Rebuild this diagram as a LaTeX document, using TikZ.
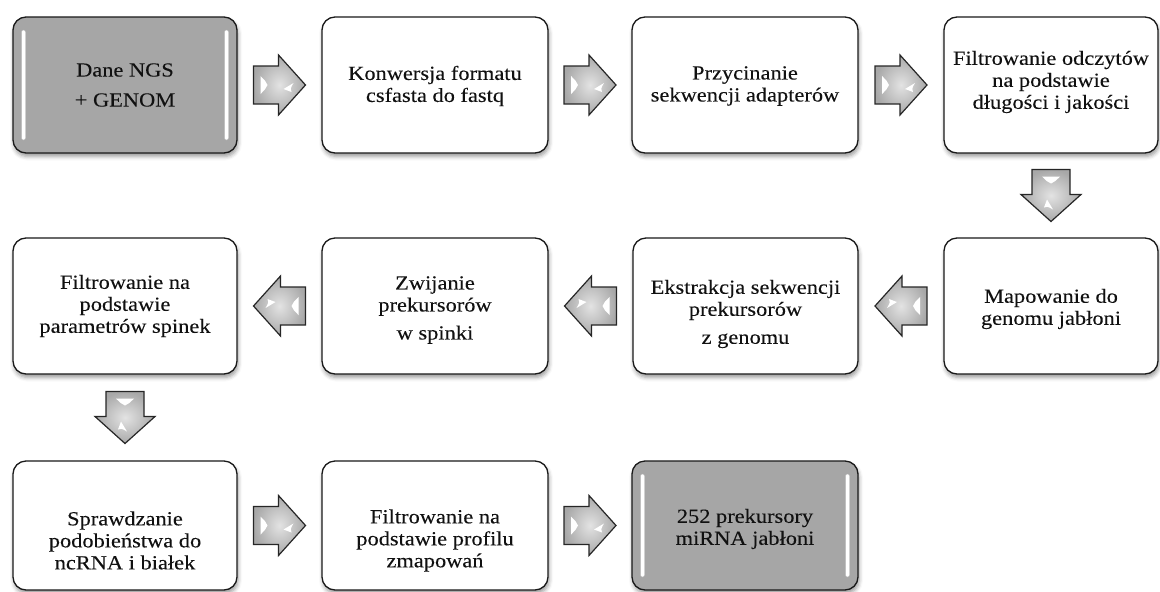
\documentclass[tikz,border=0pt]{standalone}
\usepackage{fontspec}
\setmainfont[FakeStretch=1.12, FakeBold=0.1]{Liberation Serif}
\usetikzlibrary{calc,shadows.blur}
\definecolor{boxgray}{HTML}{A6A6A6}
\definecolor{inkc}{HTML}{111111}
\tikzset{
  box/.style={draw=black!90, line width=1.3pt, rounded corners=13pt, fill=white,
    blur shadow={shadow xshift=1pt, shadow yshift=-3.5pt, shadow blur radius=4pt, shadow opacity=40},
    minimum width=224pt, minimum height=136pt, inner sep=0pt, outer sep=0pt},
  graybox/.style={box, fill=boxgray},
  txt/.style={align=center, font=\fontsize{20}{22}\selectfont, text=inkc, inner sep=0pt},
  arrowbody/.style={draw=black!85, line width=1.2pt, line join=miter, inner color=gray!22, outer color=gray!68},
  hl/.style={fill=white, draw=none},
}
\newcommand\blkarrow[3]{%
  \begin{scope}[shift={($(#1)!0.5!(#2)$)}, rotate=#3]
    \draw[arrowbody] (-26,-19) -- (-1,-19) -- (-1,-30) -- (26,0) -- (-1,30) -- (-1,19) -- (-26,19) -- cycle;
    \fill[hl] (-19,-9) .. controls (-14,-4) .. (-12,0) .. controls (-14,4) .. (-19,9) -- cycle;
    \fill[hl] (14,-2) -- (4,4) -- (12,7) .. controls (11,3) .. (14,-2);
  \end{scope}}
\newcommand\grayhl[1]{%
  \fill[white, draw=gray!55, line width=0.4pt, rounded corners=2pt] ($(#1.north west)+(8.5,13)$) rectangle ($(#1.south west)+(12.5,-13)$);
  \fill[white, draw=gray!55, line width=0.4pt, rounded corners=2pt] ($(#1.north east)+(-12.5,13)$) rectangle ($(#1.south east)+(-8.5,-13)$);}
\begin{document}
\begin{tikzpicture}[x=1pt, y=-1pt]
\useasboundingbox (0,0) rectangle (1160,592);
% row 1
\node[graybox] (b1) at (125,85) {};
\node[box, minimum width=226pt] (b2) at (435,85) {};
\node[box, minimum width=226pt] (b3) at (745,85) {};
\node[box, minimum width=214pt] (b4) at (1051,85) {};
% row 2
\node[box, minimum width=214pt] (b5) at (1051,306) {};
\node[box, minimum width=225pt] (b6) at (745.5,306) {};
\node[box, minimum width=226pt] (b7) at (435,306) {};
\node[box] (b8) at (125,306) {};
% row 3
\node[box, minimum height=129pt] (b9) at (125,525.5) {};
\node[box, minimum width=226pt, minimum height=129pt] (b10) at (435,525.5) {};
\node[graybox, minimum width=226pt, minimum height=129pt] (b11) at (745,525.5) {};
\grayhl{b1}
\grayhl{b11}
% texts
\node[txt] (t1) at ($(b1.center)+(0,0)$) {Dane NGS\\[8pt]+ GENOM};
\node[txt] (t2) at ($(b2.center)+(0,1)$) {Konwersja formatu\\csfasta do fastq};
\node[txt] (t3) at ($(b3.center)+(0,1)$) {Przycinanie\\sekwencji adapterów};
\node[txt] (t4) at ($(b4.center)+(0,-3)$) {Filtrowanie odczytów\\na podstawie\\długości i jakości};
\node[txt] (t5) at ($(b5.center)+(0,3)$) {Mapowanie do\\genomu jabłoni};
\node[txt] (t6) at ($(b6.center)+(0,8)$) {Ekstrakcja sekwencji\\prekursorów\\[6pt]z genomu};
\node[txt] (t7) at ($(b7.center)+(0,4)$) {Zwijanie\\prekursorów\\[6pt]w spinki};
\node[txt] (t8) at ($(b8.center)+(0,0)$) {Filtrowanie na\\podstawie\\parametrów spinek};
\node[txt] (t9) at ($(b9.center)+(0,15)$) {Sprawdzanie\\podobieństwa do\\ncRNA i białek};
\node[txt] (t10) at ($(b10.center)+(0,15)$) {Filtrowanie na\\podstawie profilu\\zmapowań};
\node[txt] (t11) at ($(b11.center)+(0,3.5)$) {252 prekursory\\miRNA jabłoni};
% arrows
\blkarrow{b1.east}{b2.west}{0}
\blkarrow{b2.east}{b3.west}{0}
\blkarrow{b3.east}{b4.west}{0}
\blkarrow{b4.south}{b5.north}{-90}
\blkarrow{b5.west}{b6.east}{180}
\blkarrow{b6.west}{b7.east}{180}
\blkarrow{b7.west}{b8.east}{180}
\blkarrow{b8.south}{b9.north}{-90}
\blkarrow{b9.east}{b10.west}{0}
\blkarrow{b10.east}{b11.west}{0}
\end{tikzpicture}
\end{document}
